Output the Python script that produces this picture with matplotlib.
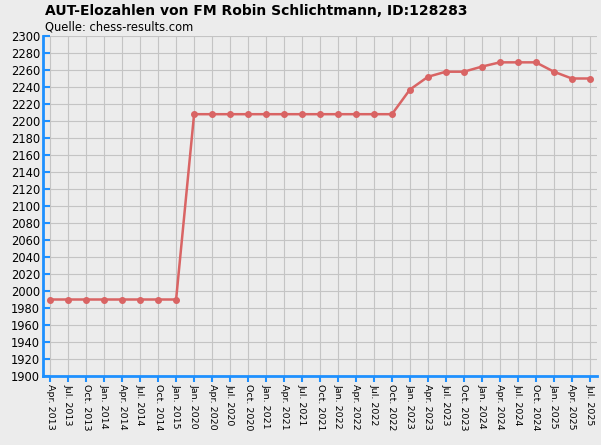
import matplotlib
matplotlib.use("Agg")
import matplotlib.pyplot as plt

labels = ["Apr. 2013","Jul. 2013","Oct. 2013","Jan. 2014","Apr. 2014","Jul. 2014","Oct. 2014","Jan. 2015",
          "Jan. 2020","Apr. 2020","Jul. 2020","Oct. 2020","Jan. 2021","Apr. 2021","Jul. 2021","Oct. 2021",
          "Jan. 2022","Apr. 2022","Jul. 2022","Oct. 2022","Jan. 2023","Apr. 2023","Jul. 2023","Oct. 2023",
          "Jan. 2024","Apr. 2024","Jul. 2024","Oct. 2024","Jan. 2025","Apr. 2025","Jul. 2025"]
elo = [1990]*8 + [2208]*12 + [2237,2252,2258,2258,2264,2269,2269,2269,2258,2250,2250]

fig = plt.figure(figsize=(6.01,4.45), dpi=100, facecolor="#ececec")
ax = fig.add_axes([43/601, 1-376/445, 554/601, 340/445])
ax.set_facecolor("#ececec")
x = list(range(len(labels)))
ax.plot(x, elo, color="#d96464", lw=1.8, marker="o", ms=4, zorder=3)
ax.set_xlim(-0.4, len(labels)-1+0.4)
ax.set_ylim(1900, 2300)
ax.set_yticks(range(1900, 2301, 20))
ax.set_xticks(x)
ax.set_xticklabels(labels, rotation=270, fontsize=6.8)
ax.tick_params(axis="y", labelsize=8.3, direction="in", length=5, pad=2)
ax.tick_params(axis="x", direction="out", length=4, pad=2)
ax.tick_params(axis="both", color="#1e90ff", width=1.5)
ax.grid(True, color="#c4c4c4", lw=0.8)
for s in ["top","right"]:
    ax.spines[s].set_visible(False)
for s in ["left","bottom"]:
    ax.spines[s].set_color("#1e90ff"); ax.spines[s].set_linewidth(2)
fig.text(45/601, 1-11/445, "AUT-Elozahlen von FM Robin Schlichtmann, ID:128283", fontsize=10, weight="bold", va="center")
fig.text(45/601, 1-27/445, "Quelle: chess-results.com", fontsize=8.3, va="center")
fig.savefig("out.png", dpi=100, facecolor=fig.get_facecolor())
